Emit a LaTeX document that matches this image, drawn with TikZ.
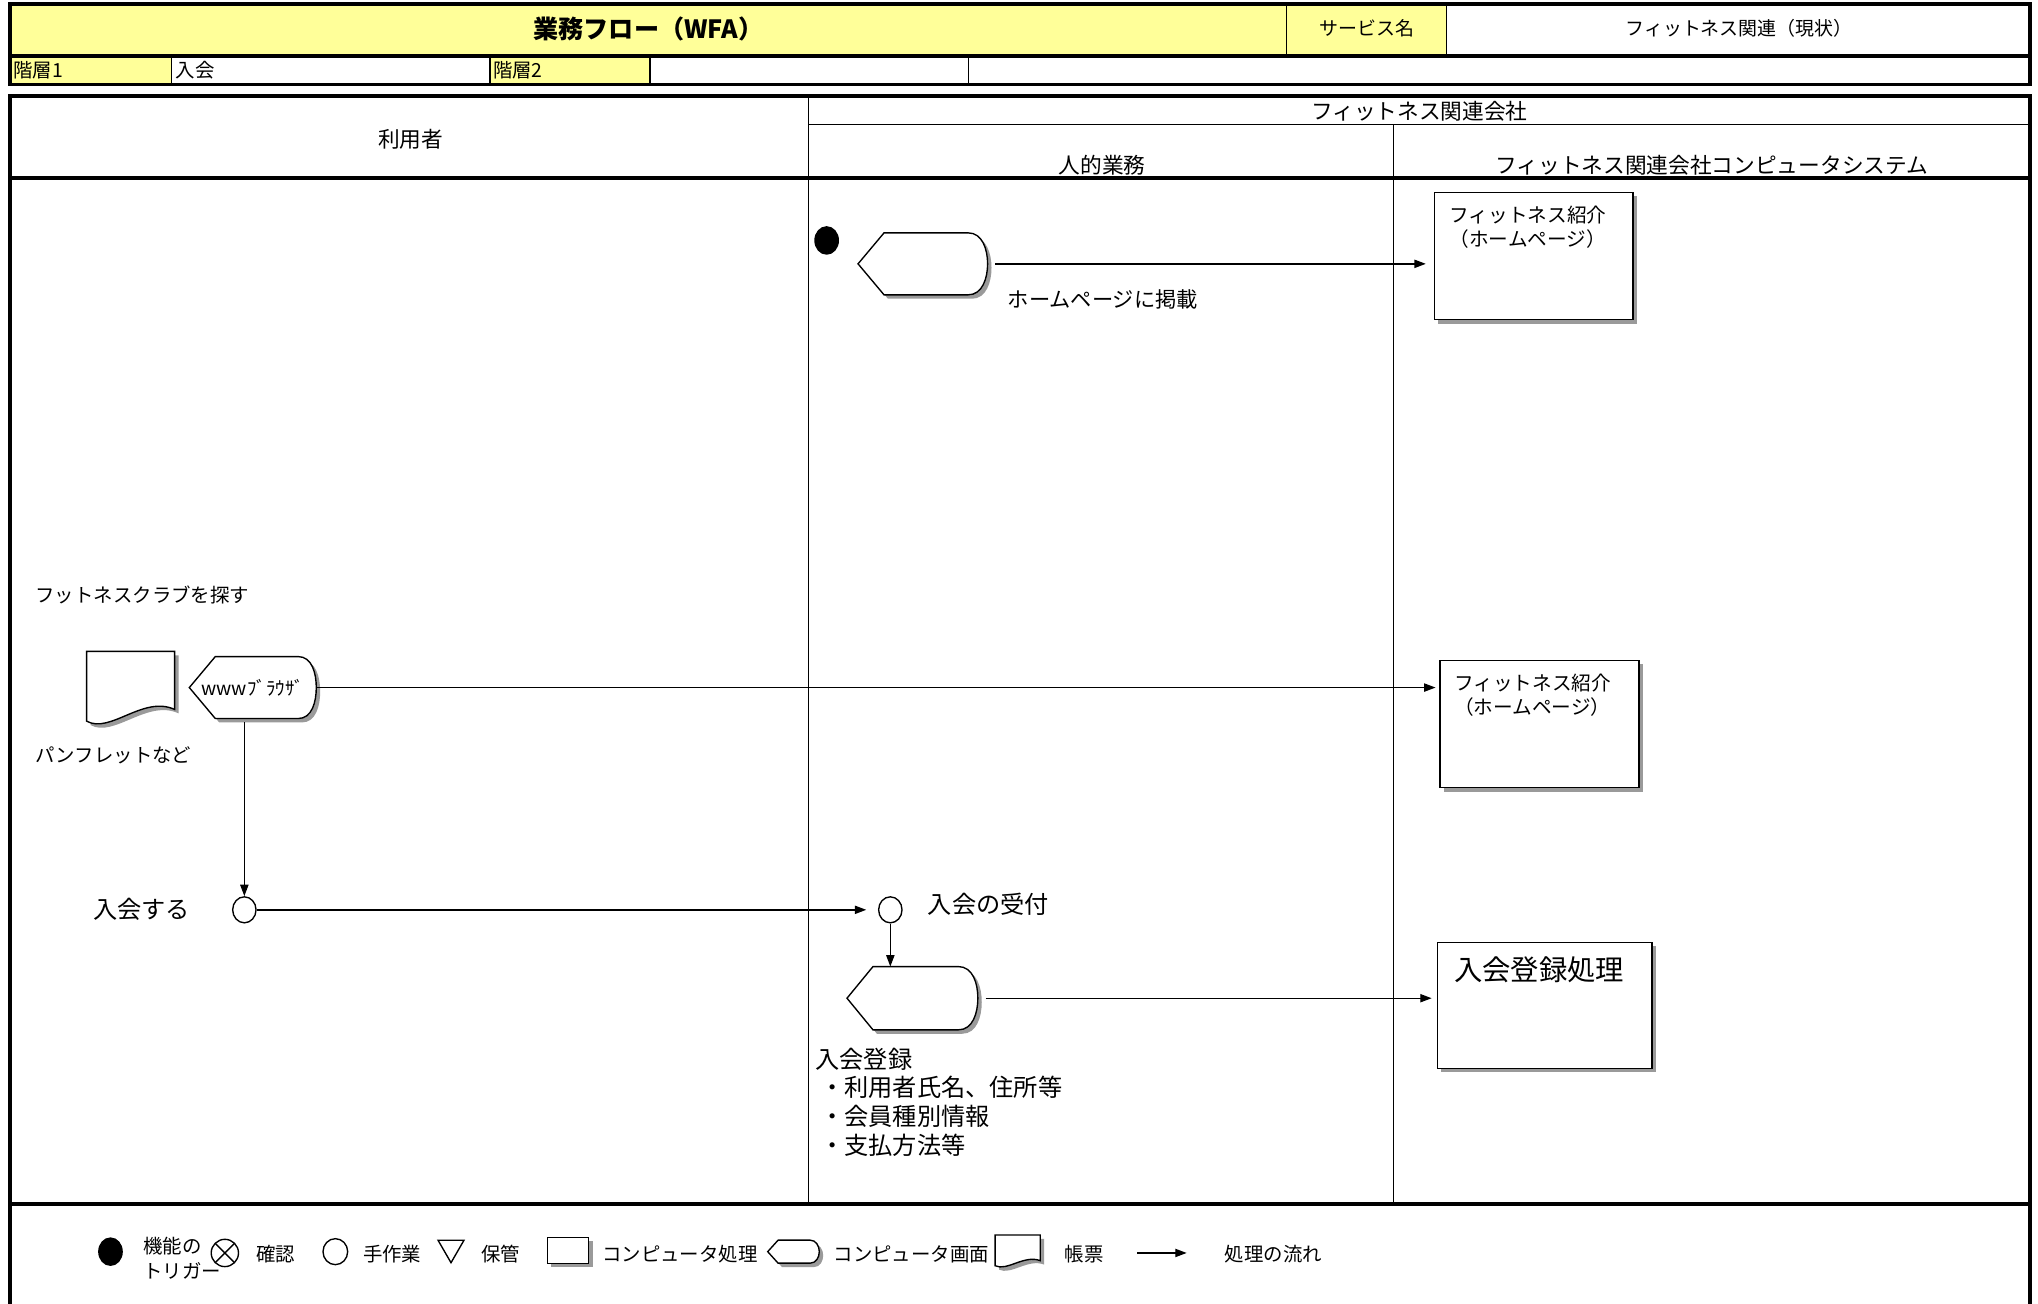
\documentclass[tikz,border=0pt]{standalone}
\usepackage{fontspec}
\setmainfont{Noto Sans CJK JP}
\usepackage{xcolor}
\usepackage{tikz}
\usetikzlibrary{positioning,arrows.meta,shapes.geometric,shadows,calc}

\definecolor{hdryellow}{HTML}{FFFF99}
\definecolor{shadegray}{HTML}{9A9A9A}

\pgfdeclarelayer{background}
\pgfsetlayers{background,main}

\newcommand{\fsz}[2]{\fontsize{#1pt}{#2pt}\selectfont}

% outline of a computer screen: node, tip inset, bulge
\newcommand{\screenpath}[3]{(#1.west) -- ([shift={(#2,0)}]#1.north west) -- ([shift={(-#3,0)}]#1.north east) to[out=0,in=90] (#1.east) to[out=-90,in=0] ([shift={(-#3,0)}]#1.south east) -- ([shift={(#2,0)}]#1.south west) -- cycle}
\newcommand{\drawscreen}[3]{%
  \begin{pgfonlayer}{background}
    \begin{scope}[transform canvas={shift={(3,3)}}]
      \fill[shadegray] \screenpath{#1}{#2}{#3};
    \end{scope}
    \draw[thinline, fill=white] \screenpath{#1}{#2}{#3};
  \end{pgfonlayer}}

% outline of a document: node, width, height
\newcommand{\docpath}[3]{(#1.south west) -- (#1.north west) -- (#1.north east) -- ([shift={(0,-0.17*#3)}]#1.south east) .. controls ([shift={(-0.36*#2,-0.38*#3)}]#1.south east) and ([shift={(0.27*#2,0.19*#3)}]#1.south west) .. (#1.south west) -- cycle}
\newcommand{\drawdoc}[3]{%
  \begin{pgfonlayer}{background}
    \begin{scope}[transform canvas={shift={(3,3)}}]
      \fill[shadegray] \docpath{#1}{#2}{#3};
    \end{scope}
    \draw[thinline, fill=white] \docpath{#1}{#2}{#3};
  \end{pgfonlayer}}

\begin{document}
\begin{tikzpicture}[
    x=0.02cm, y=-0.02cm,
    >={Triangle[length=5pt,width=3.6pt]},
    thinline/.style={line width=0.6pt},
    boldline/.style={line width=1.7pt},
    titletext/.style={font=\bfseries\fsz{11}{13}, inner sep=0pt},
    hdrtext/.style={font=\fsz{8.3}{10}, inner sep=0pt},
    celltext/.style={font=\fsz{8.5}{10}, inner sep=0pt, anchor=west},
    lanetext/.style={font=\fsz{9.5}{11}, inner sep=0pt},
    note/.style={font=\fsz{8.5}{10}, inner sep=0pt, anchor=west},
    bignote/.style={font=\fsz{10.6}{12.5}, inner sep=0pt},
    legtext/.style={font=\fsz{8.5}{10.8}, inner sep=0pt, anchor=west, align=left},
    boxtext/.style={font=\fsz{8.6}{10.3}, inner sep=0pt, anchor=north west, align=left},
    proc/.style={draw, thinline, fill=white, rectangle, inner sep=0pt,
        drop shadow={shadow xshift=0.06cm, shadow yshift=-0.06cm, fill=shadegray, opacity=1}},
    screen/.style={inner sep=0pt, minimum width=1.98cm, minimum height=0.94cm},
    docshape/.style={inner sep=0pt, minimum width=1.34cm, minimum height=1.06cm},
    manual/.style={draw, thinline, ellipse, minimum width=0.36cm, minimum height=0.4cm, inner sep=0pt},
    trigger/.style={fill, ellipse, minimum width=0.38cm, minimum height=0.44cm, inner sep=0pt},
    check/.style={draw, thinline, circle, minimum size=0.42cm, inner sep=0pt,
        path picture={\draw[thinline] (path picture bounding box.north west) -- (path picture bounding box.south east)
            (path picture bounding box.north east) -- (path picture bounding box.south west);}},
    store/.style={draw, thinline, regular polygon, regular polygon sides=3, shape border rotate=180,
        minimum size=0.46cm, inner sep=0pt},
    flow/.style={->, thinline}
]
\useasboundingbox (0,0) rectangle (1568,1003);

% header table
\fill[hdryellow] (8,3) rectangle (1113,43);
\fill[hdryellow] (8,43) rectangle (132,65);
\fill[hdryellow] (377,43) rectangle (500,65);
\draw[thinline] (990,3) -- (990,43) (1113,3) -- (1113,43);
\draw[thinline] (132,43) -- (132,65) (377,43) -- (377,65) (500,43) -- (500,65) (745,43) -- (745,65);
\draw[boldline] (8,43) -- (1562,43);
\draw[boldline] (8,3) rectangle (1562,65);

\node[titletext] (title) at (499,22) {業務フロー（WFA）};
\node[hdrtext] (svclbl) at (1052,22) {サービス名};
\node[hdrtext] (svcname) at (1338,22) {フィットネス関連（現状）};
\node[celltext] (lvl1) at (10,54) {階層1};
\node[celltext] (lvl1val) at (135,54) {入会};
\node[celltext] (lvl2) at (379,54) {階層2};

% swimlanes
\draw[boldline] (8,74) rectangle (1562,1012);
\draw[thinline] (622,96) -- (1562,96);
\draw[boldline] (8,137) -- (1562,137);
\draw[thinline] (622,74) -- (622,926);
\draw[thinline] (1072,96) -- (1072,926);
\draw[boldline] (8,926) -- (1562,926);

\node[lanetext] (user) at (316,107) {利用者};
\node[lanetext] (company) at (1092,86) {フィットネス関連会社};
\node[lanetext] (staff) at (848,127) {人的業務};
\node[lanetext] (system) at (1317,127) {フィットネス関連会社コンピュータシステム};

% publish on homepage
\node[trigger] (start) at (636,185) {};
\node[screen] (pubscr) at (710,203) {};
\drawscreen{pubscr}{20}{15}
\node[note, font=\fsz{9.3}{11}] (publbl) at (775,230) {ホームページに掲載};
\node[proc, minimum width=3.06cm, minimum height=1.96cm,
    label={[boxtext, xshift=0.24cm, yshift=-0.22cm]north west:{フィットネス紹介\\（ホームページ）}}] (intro1) at (1180,197) {};

% look for a club
\node[note] (searchlbl) at (27,458) {フットネスクラブを探す};
\node[docshape] (leaflet) at (100.5,528) {};
\drawdoc{leaflet}{67}{53}
\node[note] (leafletlbl) at (27,581) {パンフレットなど};
\node[screen, minimum width=1.94cm, font=\fsz{8.3}{10}] (browser) at (194.5,529) {wwwﾌﾞﾗｳｻﾞ};
\drawscreen{browser}{20}{14}
\node[proc, minimum width=3.06cm, minimum height=1.96cm,
    label={[boxtext, xshift=0.22cm, yshift=-0.22cm]north west:{フィットネス紹介\\（ホームページ）}}] (intro2) at (1184.5,557) {};

% join
\node[manual] (join) at (188,700) {};
\node[bignote, left=0.64cm of join] (joinlbl) {入会する};
\node[manual] (accept) at (685,700) {};
\node[bignote, right=0.38cm of accept, yshift=0.08cm] (acceptlbl) {入会の受付};
\node[screen, minimum width=2cm, minimum height=0.96cm] (regscr) at (702,768) {};
\drawscreen{regscr}{20}{15}
\node[bignote, anchor=north west, align=left] (reginfo) at (627,806)
    {入会登録\\\hspace{0.2em}・利用者氏名、住所等\\\hspace{0.2em}・会員種別情報\\\hspace{0.2em}・支払方法等};
\node[proc, minimum width=3.3cm, minimum height=1.94cm,
    label={[boxtext, font=\fsz{12.4}{14}, xshift=0.26cm, yshift=-0.22cm]north west:{入会登録処理}}] (regproc) at (1188.5,773.5) {};

% flows
\draw[flow, shorten <=0.12cm, shorten >=0.12cm] (pubscr.east) -- (pubscr.east -| intro1.west);
\draw[flow, shorten >=0.06cm] (browser.east) -- (browser.east -| intro2.west);
\draw[flow, shorten <=0.06cm] (join.north |- browser.south) -- (join.north);
\draw[flow, shorten >=0.18cm] (join.east) -- (accept.west);
\draw[flow] (accept.south) -- (accept.south |- regscr.north);
\draw[flow, shorten <=0.12cm, shorten >=0.08cm] (regscr.east) -- (regscr.east -| regproc.west);

% legend
\node[trigger] (legtrig) at (85,963) {};
\node[legtext] (legtriglbl) at (110,968) {機能の\\トリガー};
\node[check] (legcheck) at (173,964) {};
\node[legtext] (legchecklbl) at (197,965) {確認};
\node[manual, minimum width=0.38cm, minimum height=0.4cm] (legmanual) at (258,963) {};
\node[legtext] (legmanuallbl) at (279,965) {手作業};
\node[store] (legstore) at (347,960) {};
\node[legtext] (legstorelbl) at (370,965) {保管};
\node[proc, minimum width=0.64cm, minimum height=0.4cm] (legproc) at (437,962) {};
\node[legtext] (legproclbl) at (463,965) {コンピュータ処理};
\node[screen, minimum width=0.78cm, minimum height=0.34cm] (legscr) at (610.5,963) {};
\drawscreen{legscr}{8}{7}
\node[legtext] (legscrlbl) at (641,965) {コンピュータ画面};
\node[docshape, minimum width=0.68cm, minimum height=0.46cm] (legdoc) at (783,962) {};
\drawdoc{legdoc}{34}{23}
\node[legtext] (legdoclbl) at (819,965) {帳票};
\coordinate (legfrom) at (875,964);
\coordinate (legto) at (913,964);
\draw[flow] (legfrom) -- (legto);
\node[legtext] (legflowlbl) at (942,965) {処理の流れ};

\end{tikzpicture}
\end{document}
